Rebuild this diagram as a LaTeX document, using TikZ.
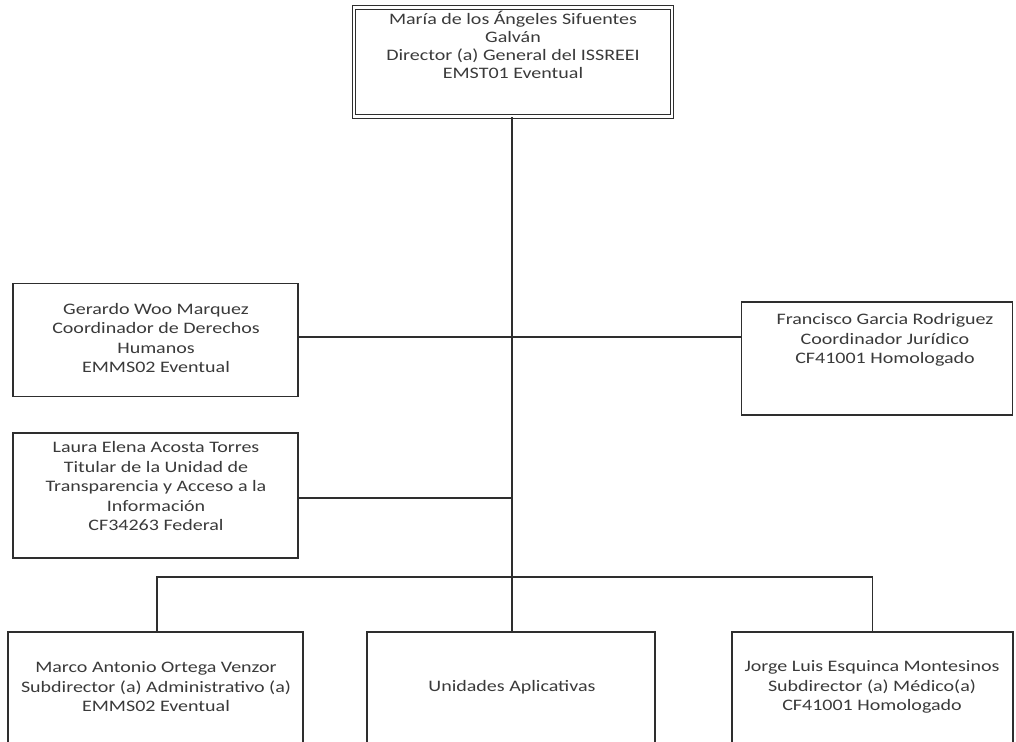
\documentclass[tikz,border=0pt]{standalone}
\usepackage{fontspec}
\setmainfont{Carlito}[FakeStretch=1.25]
\definecolor{ink}{HTML}{3A3A3A}
\definecolor{edge}{HTML}{2E2E2E}
\begin{document}
\begin{tikzpicture}[x=1pt,y=-1pt,
  box/.style={draw=edge, line width=1.5pt, fill=white, rectangle, inner sep=0pt},
  dbox/.style={draw=edge, line width=1.1pt, double=white, double distance=2.6pt, rectangle, inner sep=0pt},
  txt/.style={text=ink, align=center, inner sep=0pt, font=\fontsize{16}{19.5}\selectfont},
  link/.style={draw=edge, line width=1.4pt}]
\useasboundingbox (0,0) rectangle (1016,741);
\clip (0,0) rectangle (1016,741);
\fill[white] (0,0) rectangle (1016,741);

% boxes
\node[dbox, minimum width=318pt, minimum height=109pt] (top) at (513,62) {};
\node[box, minimum width=285pt, minimum height=113pt] (ger) at (155.5,340) {};
\node[box, minimum width=271pt, minimum height=113pt] (fra) at (877,358.5) {};
\node[box, minimum width=285pt, minimum height=125pt] (lau) at (155.5,495.5) {};
\node[box, minimum width=295pt, minimum height=130pt] (mar) at (155.5,697) {};
\node[box, minimum width=288pt, minimum height=130pt] (uni) at (511,697) {};
\node[box, minimum width=281pt, minimum height=130pt] (jor) at (872.5,697) {};

% texts
\node[txt, font=\fontsize{16}{18}\selectfont] (ttop) at (513,45) {María de los Ángeles Sifuentes\\Galván\\Director (a) General del ISSREEI\\EMST01 Eventual};
\node[txt] (tger) at (156,338) {Gerardo Woo Marquez\\Coordinador de Derechos\\Humanos\\EMMS02 Eventual};
\node[txt] (tfra) at (885,340) {Francisco Garcia Rodriguez\\Coordinador Jurídico\\CF41001 Homologado};
\node[txt] (tlau) at (156,486) {Laura Elena Acosta Torres\\Titular de la Unidad de\\Transparencia y Acceso a la\\Información\\CF34263 Federal};
\node[txt] (tmar) at (156,687) {Marco Antonio Ortega Venzor\\Subdirector (a) Administrativo (a)\\EMMS02 Eventual};
\node[txt] (tuni) at (512,687) {Unidades Aplicativas};
\node[txt] (tjor) at (872,687) {Jorge Luis Esquinca Montesinos\\Subdirector (a) Médico(a)\\CF41001 Homologado};

% connectors
\coordinate (j1) at (512,337);
\coordinate (bus) at (512,577);
\draw[link] (top.south -| bus) -- (uni.north -| bus);
\draw[link] (ger.east |- j1) -- (fra.west |- j1);
\draw[link] (lau.east |- 0,498) -- (bus |- 0,498);
\draw[link] (mar.north -| 157,0) |- (bus) -| (jor.north);
\end{tikzpicture}
\end{document}
